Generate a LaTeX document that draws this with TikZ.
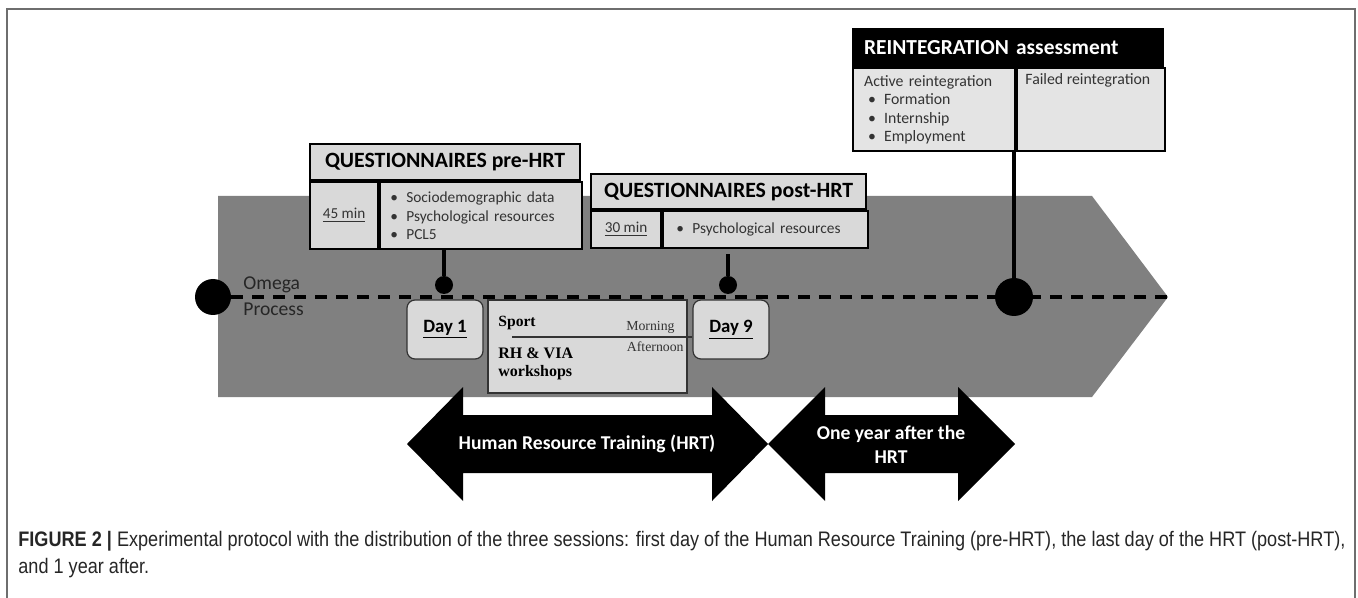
\documentclass[tikz,border=0pt]{standalone}
\usepackage{fontspec}
\setmainfont{Carlito}
\newfontfamily\serifA{Liberation Serif}
\newfontfamily\capfont{Liberation Sans}
\usepackage{graphicx}
\usepackage{tikz}
\usetikzlibrary{calc}
\definecolor{arrowgray}{HTML}{808080}
\definecolor{boxgray}{HTML}{D9D9D9}
\definecolor{txtgray}{HTML}{333333}
\definecolor{framegray}{HTML}{6E6E6E}
\newcommand\itemdot{\makebox[8pt][l]{•}}

\begin{document}
\begin{tikzpicture}[x=0.5pt,y=-0.5pt,
	titlecell/.style={draw=black, line width=1.1pt, fill=boxgray, inner sep=0pt, anchor=north west,
		font=\fontsize{10.9}{12}\selectfont\bfseries},
	cell/.style={draw=black, line width=1.1pt, fill=boxgray, inner sep=0pt, anchor=north west,
		text=txtgray, font=\fontsize{7.7}{9.25}\selectfont},
	daybox/.style={draw=black!80, line width=0.6pt, fill=boxgray, rounded corners=4pt,
		minimum width=38pt, minimum height=29.5pt, font=\fontsize{9.4}{11}\selectfont\bfseries},
	dot/.style={circle, fill=black, inner sep=0pt, minimum size=#1},
	stem/.style={line width=1.6pt},
	serifbold/.style={anchor=west, inner sep=0pt, font=\serifA\bfseries\fontsize{7.8}{9}\selectfont},
	serifnote/.style={anchor=east, inner sep=0pt, text=txtgray, font=\serifA\fontsize{6.9}{8}\selectfont},
	bigarrow/.style={fill=black},
	arrowtext/.style={text=white, font=\fontsize{9.8}{12}\selectfont\bfseries, align=center}]
	\useasboundingbox (0,0) rectangle (1358,598);
	\draw[framegray, line width=1pt] (7,598) -- (7,9) -- (1355,9) -- (1355,598);

	% timeline
	\fill[arrowgray] (218,196) -- (1092,196) -- (1168,297) -- (1092,397) -- (218,397) -- cycle;
	\node[dot=18pt] (c0) at (213,297) {};
	\coordinate (tlend) at (1172,297);
	\draw[line width=2pt, dash pattern=on 6pt off 4.5pt] (c0.east) -- (tlend);
	\node[anchor=west, inner sep=0pt, text=black!85, font=\fontsize{9.8}{11}\selectfont] (omega) at (243,285) {Omega};
	\node[anchor=west, inner sep=0pt, text=black!85, font=\fontsize{9.8}{11}\selectfont] (process) at (243,309) {Process};

	% pre-HRT questionnaires
	\node[titlecell, minimum width=135pt, minimum height=18pt] (preT) at (309,143) {QUESTIONNAIRES pre-HRT};
	\node[cell, minimum width=34pt, minimum height=33.5pt, font=\fontsize{7.6}{9}\selectfont] (preL) at (preT.south west) {\underline{45 min}};
	\node[cell, minimum height=33.5pt, inner xsep=5pt, text width=91pt, align=left] (preR) at (preL.north east)
		{\itemdot Sociodemographic data\\\itemdot Psychological resources\\\itemdot PCL5};
	\node[dot=9pt] (d1) at (444,285) {};
	\draw[stem] (d1 |- preR.south) -- (d1);

	% post-HRT questionnaires
	\node[titlecell, minimum width=137.5pt, minimum height=17.5pt] (postT) at (590,173) {QUESTIONNAIRES post-HRT};
	\node[cell, minimum width=35pt, minimum height=18.5pt, font=\fontsize{7.6}{9}\selectfont] (postL) at (postT.south west) {\underline{30 min}};
	\node[cell, minimum height=18.5pt, inner xsep=6.5pt, text width=89.5pt, align=left] (postR) at (postL.north east)
		{\itemdot Psychological resources};
	\node[dot=9pt] (d9) at (728,285) {};
	\draw[stem] ($(d9 |- postR.south)+(0,5)$) -- (d9);

	% reintegration
	\node[titlecell, fill=black, text=white, minimum height=18.5pt, inner xsep=5.5pt, text width=144pt, align=left,
		font=\fontsize{10.7}{12}\selectfont\bfseries] (reT) at (852,28) {REINTEGRATION assessment};
	\node[cell, fill=boxgray!70, minimum height=41.5pt, inner xsep=5.5pt, text width=70pt, align=left,
		font=\fontsize{7.9}{9.3}\selectfont] (reL) at (reT.south west)
		{Active reintegration\\\hspace*{2pt}\itemdot Formation\\\hspace*{2pt}\itemdot Internship\\\hspace*{2pt}\itemdot Employment};
	\node[cell, fill=boxgray!70, minimum width=74pt, minimum height=41.5pt] (reR) at (reL.north east) {};
	\node[anchor=west, inner sep=0pt, text=txtgray, font=\fontsize{7.9}{9}\selectfont] (failed) at (1025,80) {Failed reintegration};
	\node[dot=19pt] (c2) at (1014,297) {};
	\draw[stem] (c2 |- reL.south) -- (c2);

	% training days
	\node[daybox] (day1) at (445,329.5) {\underline{Day 1}};
	\node[draw=black!80, line width=0.6pt, fill=boxgray, minimum width=99.5pt, minimum height=46.5pt, inner sep=0pt] (sessions) at (587.5,346.5) {};
	\node[daybox] (day9) at (731,329.5) {\underline{Day 9}};
	\node[serifbold] (sport) at (498,323) {Sport};
	\node[serifbold, font=\serifA\bfseries\fontsize{8}{9}\selectfont] (rhvia) at (498,353) {RH \& VIA};
	\node[serifbold, font=\serifA\bfseries\fontsize{8}{9}\selectfont] (workshops) at (498,373) {workshops};
	\node[serifnote] (morning) at (675,327) {Morning};
	\node[serifnote] (afternoon) at (684,347) {Afternoon};
	\coordinate (split) at (512,337);
	\draw[line width=0.6pt, black!80] (split) -- (split -| day9.west);

	% periods
	\fill[bigarrow] (407,444) -- (463,387) -- (463,415) -- (712,415) -- (712,387) -- (768,444)
		-- (712,501) -- (712,473) -- (463,473) -- (463,501) -- cycle;
	\fill[bigarrow] (768,444) -- (825,387) -- (825,415) -- (958,415) -- (958,387) -- (1015,444)
		-- (958,501) -- (958,473) -- (825,473) -- (825,501) -- cycle;
	\node[arrowtext] (hrt) at (587,444) {Human Resource Training (HRT)};
	\node[arrowtext] (oneyear) at (891,445) {One year after the\\HRT};

	% caption
	\node[anchor=base west, inner sep=0pt, text=black!85, font=\capfont\fontsize{10.5}{13.5}\selectfont] (caption) at (18,546)
		{\resizebox{663.5pt}{\height}{\begin{tabular}[t]{@{}l@{}}
			\textbf{FIGURE 2 |} Experimental protocol with the distribution of the three sessions: first day of the Human Resource Training (pre-HRT), the last day of the HRT (post-HRT),\\
			and 1 year after.
		\end{tabular}}};
\end{tikzpicture}
\end{document}
